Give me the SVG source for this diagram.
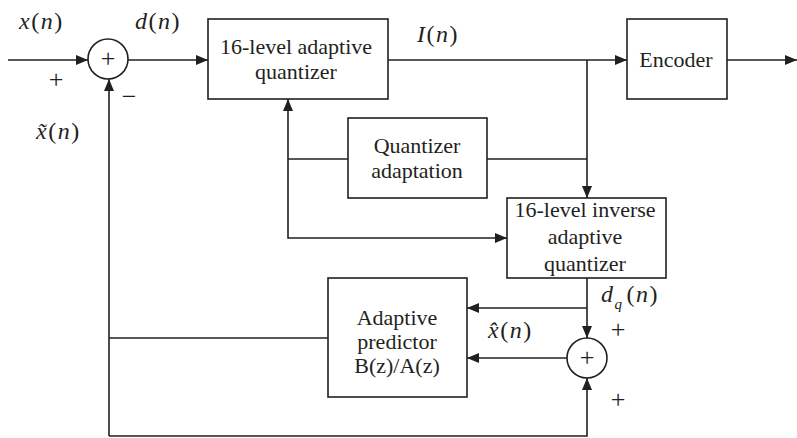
<svg xmlns="http://www.w3.org/2000/svg" width="797" height="438" viewBox="0 0 797 438">
<defs>
<marker id="ah" viewBox="0 0 12 10" refX="12" refY="5" markerWidth="12" markerHeight="10" markerUnits="userSpaceOnUse" orient="auto">
<path d="M0,0 L12,5 L0,10 Z" fill="#231f20"/>
</marker>
<style>
.box{fill:#fff;stroke:#231f20;stroke-width:1.6}
.ln{fill:none;stroke:#231f20;stroke-width:1.6}
.ar{fill:none;stroke:#231f20;stroke-width:1.6;marker-end:url(#ah)}
text{font-family:'Liberation Serif','Times New Roman',Times,serif;fill:#231f20}
.t{font-size:22px;text-anchor:middle}
.m{font-size:24px;letter-spacing:1.5px}
.i{font-style:italic}
.s{font-size:26px;text-anchor:middle}
</style>
</defs>
<rect width="797" height="438" fill="#fff"/>
<g id="connectors">
<line class="ar" x1="8" y1="60" x2="88" y2="60"/>
<line class="ar" x1="128" y1="60" x2="208" y2="60"/>
<line class="ln" x1="388" y1="60" x2="587" y2="60"/>
<line class="ar" x1="587" y1="60" x2="627" y2="60"/>
<line class="ar" x1="727" y1="60" x2="797" y2="60"/>
<line class="ar" x1="587" y1="60" x2="587" y2="198"/>
<line class="ln" x1="487" y1="159" x2="587" y2="159"/>
<line class="ln" x1="348" y1="159" x2="288" y2="159"/>
<line class="ar" x1="288" y1="159" x2="288" y2="99"/>
<polyline class="ar" points="288,159 288,238 507,238"/>
<line class="ar" x1="587" y1="278" x2="587" y2="338"/>
<line class="ar" x1="587" y1="308" x2="467" y2="308"/>
<line class="ar" x1="567" y1="358" x2="467" y2="358"/>
<line class="ln" x1="328" y1="338" x2="109" y2="338"/>
<polyline class="ar" points="109,436 109,338 109,79"/>
<polyline class="ar" points="109,436 587,436 587,378"/>
</g>
<g id="sum1">
<circle class="box" cx="108" cy="59" r="20"/>
<text class="s" x="108" y="67">+</text>
</g>
<g id="quantizer">
<rect class="box" x="208" y="19" width="180" height="80"/>
<text class="t" x="296" y="54">16-level adaptive</text>
<text class="t" x="296" y="79">quantizer</text>
</g>
<g id="encoder">
<rect class="box" x="627" y="19" width="100" height="80"/>
<text class="t" x="676" y="67">Encoder</text>
</g>
<g id="adaptation">
<rect class="box" x="348" y="118" width="139" height="80"/>
<text class="t" x="417" y="153">Quantizer</text>
<text class="t" x="417" y="178">adaptation</text>
</g>
<g id="inverse">
<rect class="box" x="507" y="198" width="159" height="80"/>
<text class="t" x="585" y="217">16-level inverse</text>
<text class="t" x="585" y="244">adaptive</text>
<text class="t" x="585" y="271">quantizer</text>
</g>
<g id="predictor">
<rect class="box" x="328" y="278" width="139" height="119"/>
<text class="t" x="397" y="325">Adaptive</text>
<text class="t" x="397" y="349">predictor</text>
<text class="t" x="397" y="373">B(z)/A(z)</text>
</g>
<g id="sum2">
<circle class="box" cx="587" cy="358" r="20"/>
<text class="s" x="587" y="366">+</text>
</g>
<g id="labels">
<text class="m" x="19" y="29"><tspan class="i">x</tspan>(<tspan class="i">n</tspan>)</text>
<text class="m" x="135" y="29"><tspan class="i">d</tspan>(<tspan class="i">n</tspan>)</text>
<text class="m" x="417" y="42"><tspan class="i">I</tspan>(<tspan class="i">n</tspan>)</text>
<text class="m" x="36" y="139"><tspan class="i">x̃</tspan>(<tspan class="i">n</tspan>)</text>
<text class="m" x="488" y="338"><tspan class="i">x̂</tspan>(<tspan class="i">n</tspan>)</text>
<text class="m" x="601" y="302"><tspan class="i">d</tspan><tspan class="i" font-size="15" dy="7">q</tspan><tspan dy="-7" dx="3">(</tspan><tspan class="i">n</tspan>)</text>
<text class="s" x="56" y="88">+</text>
<text class="s" x="129" y="105">−</text>
<text class="s" x="618" y="338">+</text>
<text class="s" x="618" y="408">+</text>
</g>
</svg>
